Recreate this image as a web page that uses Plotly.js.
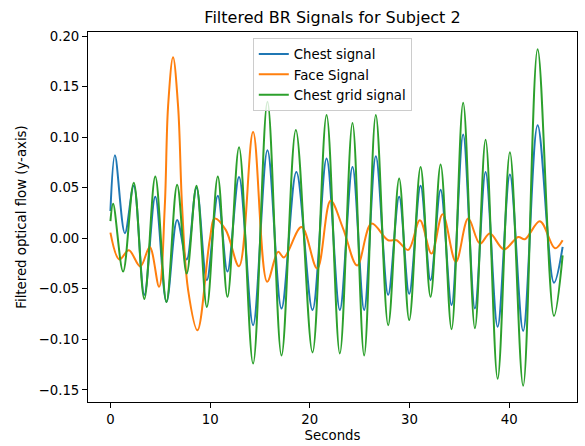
<!DOCTYPE html>
<html>
<head>
<meta charset="utf-8">
<script src="https://cdn.plot.ly/plotly-3.0.1.min.js"></script>
<style>
html,body{margin:0;padding:0;background:#fff;}
#chart{width:585px;height:446px;}
</style>
</head>
<body>
<div id="chart"></div>
<script>
// Chest signal (blue): time (s) and value at read-off extrema
var chestX = [0, 0.45, 1.45, 2.34, 3.4, 4.5, 5.62, 6.69, 7.65, 8.63, 9.67, 10.77, 11.74, 12.9,
  14.31, 15.75, 17.16, 18.65, 20.27, 21.68, 23.01, 24.28, 25.45, 26.62, 27.86, 28.96, 29.97,
  31.11, 32.11, 33.12, 34.22, 35.38, 36.56, 37.63, 38.84, 40.07, 41.4, 42.85, 44.49, 45.36];
var chestY = [0.027, 0.082, 0.005, 0.052, -0.056, 0.041, -0.063, 0.018, -0.021, 0.050, -0.0415, 0.042, -0.033, 0.0606,
  -0.086, 0.087, -0.0695, 0.0655, -0.071, 0.0788, -0.071, 0.0705, -0.071, 0.081, -0.056, 0.041, -0.055,
  0.052, -0.0415, 0.048, -0.066, 0.1025, -0.0695, 0.0655, -0.0876, 0.063, -0.0916, 0.1117, -0.044, -0.0086];

// Face signal (orange)
var faceX = [0, 0.9, 1.85, 3.0, 3.94, 4.88, 5.45, 5.78, 6.28, 6.79, 7.19, 7.79, 8.73, 9.96, 10.47,
  11.58, 12.9, 14.31, 15.72, 16.82, 17.4, 19.17, 20.74, 22.08, 23.34, 24.75, 26.19, 27.86, 28.7,
  29.87, 31.04, 32.21, 33.32, 34.65, 35.89, 37.06, 38.06, 39.47, 40.9, 41.57, 43.08, 44.59, 45.36];
var faceY = [0.0056, -0.021, -0.012, -0.028, -0.0086, -0.048, 0.031, 0.13, 0.179, 0.13, 0.031, -0.051, -0.091, -0.002, 0.0195,
  0.008, -0.0277, 0.105, -0.043, -0.0135, -0.019, 0.011, -0.030, 0.037, 0.0096, -0.027, 0.0145, -0.002, -0.002,
  -0.0115, 0.0178, -0.0152, 0.0237, -0.0234, 0.0194, -0.0053, 0.0046, -0.011, 0.0013, -0.001, 0.0168, -0.010, -0.002];

// Chest grid signal (green)
var gridX = [0, 0.27, 1.27, 2.34, 3.4, 4.5, 5.62, 6.69, 7.65, 8.63, 9.67, 10.77, 11.74, 12.9,
  14.31, 15.75, 17.16, 18.6, 20.27, 21.68, 23.01, 24.28, 25.45, 26.62, 27.86, 28.96, 29.97,
  31.11, 32.11, 33.12, 34.22, 35.38, 36.56, 37.63, 38.84, 40.07, 41.4, 42.85, 44.49, 45.36];
var gridY = [0.017, 0.034, -0.033, 0.055, -0.06, 0.061, -0.063, 0.053, -0.035, 0.052, -0.068, 0.061, -0.058, 0.090,
  -0.124, 0.135, -0.116, 0.107, -0.113, 0.122, -0.114, 0.114, -0.116, 0.122, -0.086, 0.059, -0.081,
  0.0705, -0.058, 0.073, -0.090, 0.134, -0.089, 0.0975, -0.139, 0.085, -0.146, 0.187, -0.077, -0.017];

var seriesNames = ["Chest signal", "Face Signal", "Chest grid signal"];
var seriesColors = ["#1f77b4", "#ff7f0e", "#2ca02c"];
var xTicks = [0, 10, 20, 30, 40];
var yTicks = [-0.15, -0.10, -0.05, 0.00, 0.05, 0.10, 0.15, 0.20];

var xs = [chestX, faceX, gridX];
var ys = [chestY, faceY, gridY];
var traces = xs.map(function (x, i) {
  return {
    x: x, y: ys[i], type: "scatter", mode: "lines", name: seriesNames[i],
    line: {color: seriesColors[i], width: 2, shape: "spline", smoothing: 1.0}
  };
});

var font = {family: "DejaVu Sans", size: 13.3, color: "#000"};
var axisCommon = {
  showgrid: false, zeroline: false, showline: true, mirror: true,
  linecolor: "#000", linewidth: 1, ticks: "outside", ticklen: 5, tickwidth: 1,
  tickcolor: "#000", tickfont: font
};

var layout = {
  width: 585, height: 446,
  margin: {l: 88, r: 8, t: 32, b: 44, pad: 0},
  paper_bgcolor: "#fff", plot_bgcolor: "#fff",
  font: font,
  showlegend: true,
  title: {text: "Filtered BR Signals for Subject 2", font: {family: "DejaVu Sans", size: 16, color: "#000"},
          x: 0.5, xanchor: "center", xref: "paper", y: 0.962, yanchor: "middle", yref: "container"},
  xaxis: Object.assign({}, axisCommon, {
    range: [-2.25, 46.8], tickvals: xTicks, ticktext: xTicks.map(String),
    title: {text: "Seconds", font: font, standoff: 4}
  }),
  yaxis: Object.assign({}, axisCommon, {
    range: [-0.162, 0.204], tickvals: yTicks, tickformat: ".2f",
    title: {text: "Filtered optical flow (y-axis)", font: font, standoff: 8}
  }),
  legend: {
    x: 0.337, y: 0.984, xanchor: "left", yanchor: "top",
    bgcolor: "rgba(255,255,255,0.8)", bordercolor: "#cccccc", borderwidth: 1,
    font: font, tracegroupgap: 0
  }
};

Plotly.newPlot("chart", traces, layout, {displayModeBar: false, staticPlot: true});
</script>
</body>
</html>
